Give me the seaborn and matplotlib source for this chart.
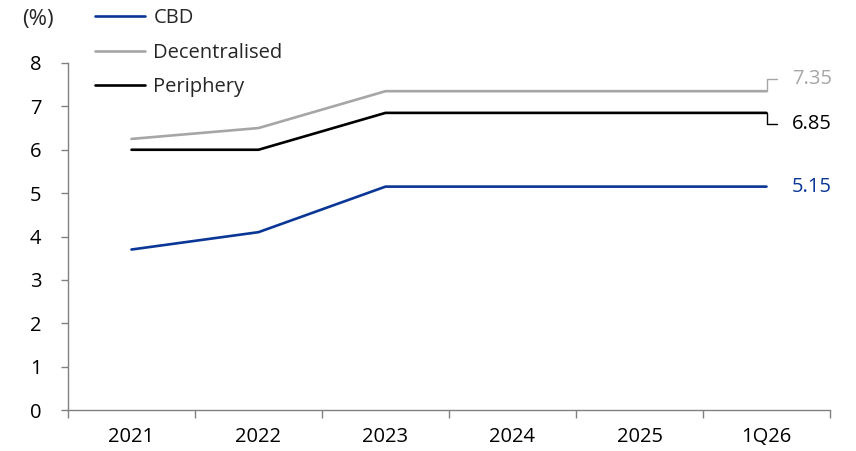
import matplotlib
matplotlib.use("Agg")
import matplotlib.pyplot as plt
import seaborn as sns
import pandas as pd
import numpy as np

periods = ["2021", "2022", "2023", "2024", "2025", "1Q26"]
cbd = [3.70, 4.10, 5.15, 5.15, 5.15, 5.15]
decentralised = [6.25, 6.50, 7.35, 7.35, 7.35, 7.35]
periphery = [6.00, 6.00, 6.85, 6.85, 6.85, 6.85]
series_names = ["CBD", "Decentralised", "Periphery"]
y_ticks = [0, 1, 2, 3, 4, 5, 6, 7, 8]

colors = {"CBD": "#0A3696", "Decentralised": "#A6A6A6", "Periphery": "#000000"}
FS = 14.5

sns.set_theme(style="white")
plt.rcParams["font.family"] = ["Open Sans", "DejaVu Sans"]

df = pd.DataFrame({
    "x": list(range(len(periods))) * 3,
    "value": cbd + decentralised + periphery,
    "series": [s for s in series_names for _ in periods],
})

fig = plt.figure(figsize=(8.56, 4.51), dpi=100)
ax = fig.add_axes([68 / 856, 1 - 410 / 451, (830 - 68) / 856, (410 - 63) / 451])

sns.lineplot(data=df, x="x", y="value", hue="series", palette=colors,
             hue_order=series_names, linewidth=1.9, ax=ax, legend=False)

ax.set_xlim(-0.5, len(periods) - 0.5)
ax.set_ylim(0, 8)
ax.set_yticks(y_ticks)
ax.set_yticklabels([str(t) for t in y_ticks], fontsize=FS, color="#000000")
ax.set_xticks(np.arange(-0.5, len(periods), 1.0))
ax.set_xticklabels([])
ax.set_xticks(range(len(periods)), minor=True)
ax.set_xticklabels(periods, minor=True, fontsize=FS, color="#000000")
ax.tick_params(axis="x", which="major", direction="out", length=6, width=1, color="#808080", bottom=True)
ax.tick_params(axis="x", which="minor", length=0, pad=12)
ax.tick_params(axis="y", direction="out", length=5, width=1, color="#808080", left=True, pad=14)
ax.set_xlabel("")
ax.set_ylabel("")
for side in ["top", "right"]:
    ax.spines[side].set_visible(False)
for side in ["left", "bottom"]:
    ax.spines[side].set_color("#808080")
    ax.spines[side].set_linewidth(1)

# End-of-line value labels, with small bracket leaders where lines sit close together
last = len(periods) - 1
end_labels = [
    ("Decentralised", decentralised[-1], 0.28),
    ("Periphery", periphery[-1], -0.25),
    ("CBD", cbd[-1], 0.0),
]
for name, val, shift in end_labels:
    c = colors[name]
    ty = val + shift
    if shift != 0:
        ax.plot([last, last, last + 0.08], [val, ty, ty], color=c, linewidth=1.0, clip_on=False)
    ax.text(last + 0.2, ty, f"{val:.2f}", color=c, fontsize=FS, va="center", ha="left")

# Legend above the plot
handles = [plt.Line2D([], [], color=colors[s], linewidth=1.9) for s in series_names]
fig.legend(handles, series_names, loc="upper left", bbox_to_anchor=(87 / 856, 1 + 0 / 451),
           frameon=False, fontsize=FS, handlelength=2.5, handletextpad=0.4,
           labelspacing=0.72, borderaxespad=0, borderpad=0.4)

fig.text(22 / 856, 1 - 19 / 451, "(%)", fontsize=16, va="center", ha="left")

fig.savefig("out.png", dpi=100)
